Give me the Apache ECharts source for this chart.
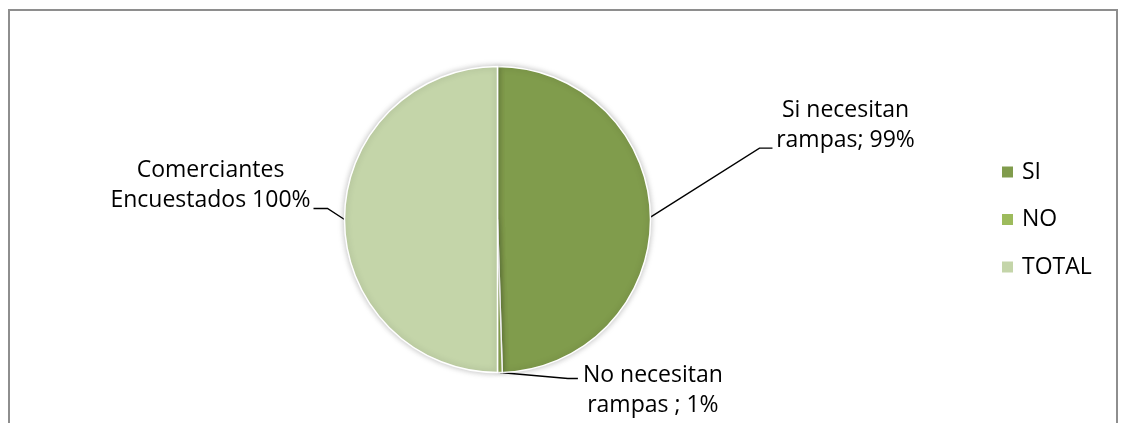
<!DOCTYPE html>
<html>
<head>
<meta charset="utf-8">
<script src="https://cdn.jsdelivr.net/npm/echarts@6/dist/echarts.min.js"></script>
<style>
html,body{margin:0;padding:0;background:#fff;}
#chart{width:1125px;height:423px;}
</style>
</head>
<body>
<div id="chart"></div>
<script>
// Data
const categories = ['SI', 'NO', 'TOTAL'];
const values = [99, 1, 100];
const labelTexts = ['Si necesitan\nrampas; 99%', 'No necesitan\nrampas ; 1%', 'Comerciantes\nEncuestados 100%'];
const colors = ['#809c4c', '#9dbb5c', '#c4d5a9'];

// Label placement relative to the slice anchor point (style only)
const labelOffsets = [
  { dx: 195, dy: -92, align: 'center', bend: [109, -69], end: [122, -69] },
  { dx: 153, dy: 18, align: 'center', bend: [68, 6], end: [78, 6] },
  { dx: -134, dy: -34, align: 'center', bend: [-17, -11], end: [-31, -11] }
];

const chart = echarts.init(document.getElementById('chart'));
const font = '"Open Sans", "Noto Sans", sans-serif';

chart.setOption({
  animation: false,
  color: colors,
  graphic: [{
    type: 'rect',
    shape: { x: 9, y: 10, width: 1108, height: 450 },
    style: { fill: 'none', stroke: '#8e8e8e', lineWidth: 2 },
    silent: true
  }],
  legend: {
    orient: 'vertical',
    left: 995,
    top: 155,
    itemWidth: 13,
    itemHeight: 13,
    itemGap: 23.5,
    icon: 'rect',
    data: categories,
    textStyle: { fontFamily: font, fontSize: 23, color: '#000', lineHeight: 24, padding: [0, 0, 0, 3] }
  },
  series: [{
    type: 'pie',
    center: [497.5, 219.5],
    radius: [0, 153],
    startAngle: 90,
    clockwise: true,
    avoidLabelOverlap: false,
    itemStyle: {
      borderColor: '#fff',
      borderWidth: 1.5,
      shadowBlur: 6,
      shadowColor: 'rgba(0,0,0,0.25)'
    },
    label: {
      show: true,
      position: 'outside',
      fontFamily: font,
      fontSize: 23,
      lineHeight: 30,
      color: '#000',
      formatter: function (p) { return labelTexts[p.dataIndex]; }
    },
    labelLine: {
      show: true,
      length: 20,
      length2: 10,
      lineStyle: { color: '#000', width: 1.4 }
    },
    labelLayout: function (params) {
      const o = labelOffsets[params.dataIndex];
      const p0 = params.labelLinePoints[0];
      return {
        x: p0[0] + o.dx,
        y: p0[1] + o.dy,
        align: o.align,
        verticalAlign: 'middle',
        labelLinePoints: [
          [p0[0], p0[1]],
          [p0[0] + o.bend[0], p0[1] + o.bend[1]],
          [p0[0] + o.end[0], p0[1] + o.end[1]]
        ]
      };
    },
    data: categories.map(function (c, i) { return { name: c, value: values[i] }; })
  }]
});
</script>
</body>
</html>
